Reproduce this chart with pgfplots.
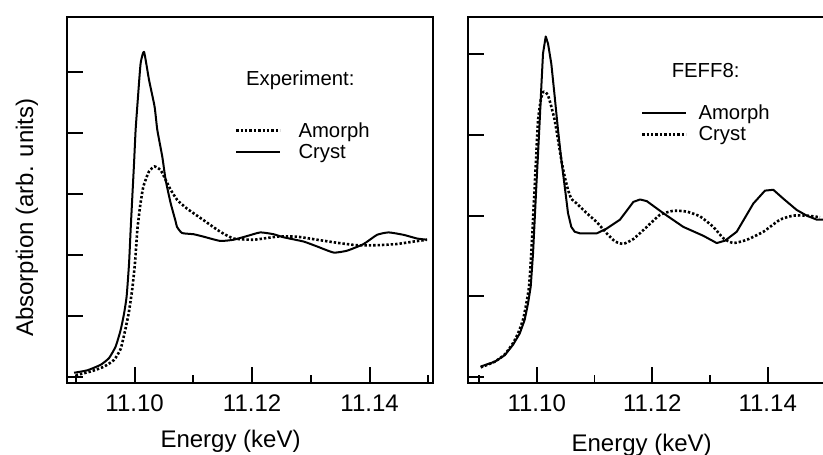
\documentclass[border=0pt]{standalone}
\usepackage{fontspec}
\setmainfont{Liberation Sans}
\usepackage{pgfplots}
\pgfplotsset{compat=1.18}

\pgfplotsset{
  panel/.style={
    scale only axis,
    anchor=south west,
    height=366pt,
    tick pos=left,
    tick align=inside,
    major tick length=16pt,
    minor tick length=8.5pt,
    tick style={black, line width=1.8pt},
    axis line style={line width=1.8pt},
    xtick={11.10,11.12,11.14},
    xticklabels={11.10,11.12,11.14},
    minor xtick={11.09,11.11,11.13,11.15},
    yticklabels={},
    xticklabel style={font=\fontsize{24}{28}\selectfont, anchor=north, inner sep=0pt, yshift=-12pt},
    xlabel={Energy (keV)},
    legend cell align=left,
    clip=true,
  },
  solidc/.style={black, line width=2pt, line join=round},
  dotc/.style={black, line width=2.6pt, dash pattern=on 2.4pt off 2.0pt},
}

\begin{document}
\begin{tikzpicture}
\useasboundingbox (0,0) rectangle (823pt,-455pt);

% ---------------- Left panel: Experiment ----------------
\begin{axis}[panel,
  at={(67.3pt,-383pt)},
  width=366pt,
  xmin=11.08854, xmax=11.15084,
  ymin=-0.098, ymax=5.90,
  ytick={0,1,2,3,4,5},
  xlabel style={at={(axis description cs:0.446,-0.1757)}, anchor=base, font=\fontsize{24}{28}\selectfont, inner sep=0pt},
  ylabel={Absorption (arb. units)},
  ylabel style={at={(axis description cs:-0.0937,0.452)}, anchor=base, rotate=0, font=\fontsize{24}{28}\selectfont, inner sep=0pt},
  legend style={at={(axis description cs:0.458,0.712)}, anchor=north west, draw=none, fill=none,
    inner sep=0pt, outer sep=0pt, row sep=6pt, font=\fontsize{20.3}{24}\selectfont, nodes={inner sep=0pt}},
  legend image code/.code={\draw[#1] (0pt,0pt) -- (44pt,0pt); \path (61pt,0pt);},
]
\addplot[dotc, smooth, tension=0.3] coordinates {
(11.08996,0.03) (11.09251,0.09) (11.09479,0.17) (11.09649,0.28) (11.09762,0.46)
(11.09847,0.80) (11.09905,1.08) (11.09961,1.45) (11.10007,1.88) (11.10046,2.41)
(11.10092,2.79) (11.10148,3.12) (11.10245,3.37) (11.10340,3.45) (11.10443,3.39)
(11.10528,3.23) (11.10613,3.07) (11.10727,2.90) (11.10892,2.76) (11.11174,2.57)
(11.11459,2.38) (11.11685,2.27) (11.12026,2.25) (11.12424,2.30) (11.12764,2.30)
(11.13105,2.25) (11.13445,2.20) (11.13786,2.16) (11.14126,2.16) (11.14466,2.18)
(11.14749,2.22) (11.14977,2.25)
};
\addlegendentry{Amorph}
\addplot[solidc, smooth, tension=0.3] coordinates {
(11.08969,0.07) (11.09195,0.11) (11.09421,0.20) (11.09564,0.31) (11.09677,0.50)
(11.09762,0.77) (11.09820,1.04) (11.09864,1.32) (11.09905,1.86) (11.09932,2.41)
(11.09961,2.96) (11.09990,3.50) (11.10017,4.05) (11.10058,4.60) (11.10102,5.14)
(11.10160,5.33) (11.10245,4.87) (11.10340,4.43) (11.10386,4.05) (11.10471,3.61)
(11.10528,3.23) (11.10613,2.85) (11.10698,2.55) (11.10722,2.46) (11.10807,2.36)
(11.11004,2.34) (11.11174,2.30) (11.11459,2.23) (11.11685,2.25) (11.11913,2.31)
(11.12140,2.37) (11.12366,2.34) (11.12536,2.29) (11.12877,2.22) (11.13105,2.14)
(11.13387,2.04) (11.13615,2.07) (11.13898,2.18) (11.14126,2.33) (11.14323,2.37)
(11.14579,2.33) (11.14807,2.27) (11.14977,2.25)
};
\addlegendentry{Cryst}
\node[anchor=base west, inner sep=0pt, font=\fontsize{20.3}{24}\selectfont] at (axis description cs:0.488,0.814) {Experiment:};
\end{axis}

% ---------------- Right panel: FEFF8 ----------------
\begin{axis}[panel,
  at={(468pt,-383pt)},
  width=360.3pt,
  xmin=11.08810, xmax=11.15049,
  ymin=-0.074, ymax=4.461,
  ytick={0,1,2,3,4},
  xlabel style={at={(axis description cs:0.482,-0.1858)}, anchor=base, font=\fontsize{24}{28}\selectfont, inner sep=0pt},
  legend style={at={(axis description cs:0.480,0.761)}, anchor=north west, draw=none, fill=none,
    inner sep=0pt, outer sep=0pt, row sep=6pt, font=\fontsize{20.3}{24}\selectfont, nodes={inner sep=0pt}},
  legend image code/.code={\draw[#1] (0pt,0pt) -- (44pt,0pt); \path (55pt,0pt);},
]
\addplot[solidc] coordinates {
(11.09030,0.13) (11.09273,0.19) (11.09446,0.27) (11.09590,0.40) (11.09706,0.54)
(11.09792,0.71) (11.09849,0.91) (11.09896,1.12) (11.09936,1.53) (11.09965,1.95)
(11.09993,2.36) (11.10023,2.77) (11.10052,3.18) (11.10080,3.60) (11.10109,4.01)
(11.10156,4.22) (11.10196,4.13) (11.10253,3.88) (11.10312,3.47) (11.10369,3.06)
(11.10426,2.69) (11.10485,2.36) (11.10542,2.03) (11.10599,1.86) (11.10658,1.80)
(11.10750,1.78) (11.11039,1.78) (11.11212,1.84) (11.11442,1.95) (11.11673,2.17)
(11.11789,2.20) (11.11905,2.18) (11.12192,2.03) (11.12539,1.86) (11.12885,1.75)
(11.13117,1.66) (11.13261,1.69) (11.13463,1.80) (11.13751,2.15) (11.13953,2.31)
(11.14097,2.32) (11.14270,2.21) (11.14502,2.07) (11.14675,2.00) (11.14848,1.95)
(11.14963,1.95)
};
\addlegendentry{Amorph}
\addplot[dotc, smooth, tension=0.3] coordinates {
(11.09030,0.12) (11.09273,0.19) (11.09446,0.28) (11.09590,0.42) (11.09676,0.54)
(11.09763,0.71) (11.09820,0.91) (11.09867,1.12) (11.09906,1.53) (11.09936,1.95)
(11.09965,2.36) (11.09993,2.77) (11.10023,3.18) (11.10069,3.43) (11.10109,3.53)
(11.10149,3.53) (11.10196,3.49) (11.10253,3.35) (11.10312,3.18) (11.10369,2.94)
(11.10426,2.69) (11.10485,2.48) (11.10542,2.32) (11.10599,2.21) (11.10693,2.15)
(11.10866,2.03) (11.11039,1.92) (11.11212,1.78) (11.11356,1.68) (11.11500,1.65)
(11.11673,1.71) (11.11905,1.86) (11.12135,2.01) (11.12365,2.06) (11.12597,2.05)
(11.12828,1.99) (11.13058,1.86) (11.13231,1.72) (11.13404,1.66) (11.13636,1.70)
(11.13924,1.80) (11.14213,1.95) (11.14443,2.00) (11.14675,2.00) (11.14905,1.98)
};
\addlegendentry{Cryst}
\node[anchor=base west, inner sep=0pt, font=\fontsize{20.3}{24}\selectfont] at (axis description cs:0.565,0.835) {FEFF8:};
\end{axis}
\end{tikzpicture}
\end{document}
